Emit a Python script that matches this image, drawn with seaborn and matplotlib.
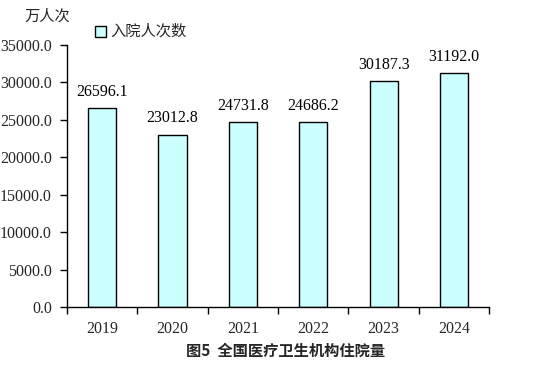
import matplotlib
matplotlib.use("Agg")
import matplotlib.pyplot as plt
import seaborn as sns
import pandas as pd
from matplotlib.patches import Rectangle

years = ["2019", "2020", "2021", "2022", "2023", "2024"]
values = [26596.1, 23012.8, 24731.8, 24686.2, 30187.3, 31192.0]
series_name = "入院人次数"
unit = "万人次"
title = "图5  全国医疗卫生机构住院量"

sns.set_theme(style="white")
plt.rcParams['font.family'] = ['Liberation Serif', 'Noto Sans CJK SC', 'DejaVu Sans']

fig = plt.figure(figsize=(5.54, 3.67), dpi=100)
ax = fig.add_axes([0.121, 0.1635, 0.762, 0.714])

df = pd.DataFrame({"year": years, "value": values})
sns.barplot(data=df, x="year", y="value", color="#CCFFFF", saturation=1,
            edgecolor="black", linewidth=1.0, width=0.4, ax=ax)

ax.set_xlim(-0.5, len(years) - 0.5)
ax.set_ylim(0, 35000)
ax.set_yticks(range(0, 35001, 5000))
ax.set_yticklabels([f"{v:.1f}" for v in range(0, 35001, 5000)], fontsize=11.5)
ax.set_xlabel("")
ax.set_ylabel("")

# x ticks at category boundaries, labels at centers
ax.set_xticks([i - 0.5 for i in range(len(years) + 1)], minor=False)
ax.set_xticklabels([""] * (len(years) + 1))
ax.set_xticks(range(len(years)), minor=True)
ax.set_xticklabels(years, minor=True, fontsize=11.5)
ax.tick_params(axis='x', which='major', direction='out', length=5, width=1, color='black', bottom=True)
ax.tick_params(axis='x', which='minor', length=0, pad=10, bottom=True)
ax.tick_params(axis='y', direction='out', length=5, width=1, color='black', left=True, pad=6)

for s in ["top", "right"]:
    ax.spines[s].set_visible(False)
for s in ["left", "bottom"]:
    ax.spines[s].set_color("black")
    ax.spines[s].set_linewidth(1.0)

for i, v in enumerate(values):
    ax.annotate(f"{v:.1f}", (i, v), xytext=(0, 6), textcoords="offset points",
                ha="center", va="bottom", fontsize=11.5, color="black")

# unit label
fig.text(0.045, 0.955, unit, fontsize=11, family=['Noto Sans CJK SC', 'DejaVu Sans'], va="center", ha="left")
# legend
fig.patches.append(Rectangle((0.172, 0.900), 0.020, 0.028, transform=fig.transFigure,
                             facecolor="#CCFFFF", edgecolor="black", linewidth=1.0))
fig.text(0.199, 0.914, series_name, fontsize=11, family=['Noto Sans CJK SC', 'DejaVu Sans'], va="center", ha="left")
# title
fig.text(0.515, 0.045, title, fontsize=11, fontweight="bold",
         family=['Noto Sans CJK SC', 'DejaVu Sans'], ha="center", va="center")

fig.savefig("out.png", dpi=100)
